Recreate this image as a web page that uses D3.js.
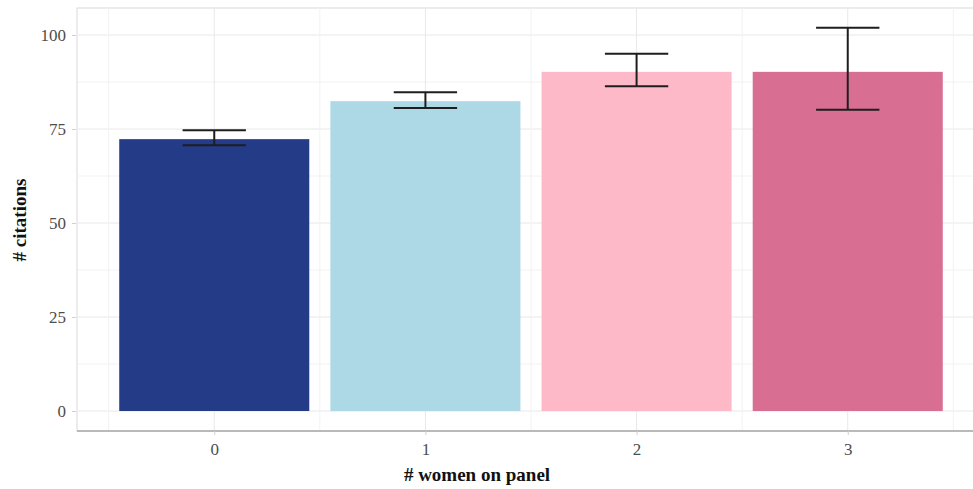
<!DOCTYPE html>
<html>
<head>
<meta charset="utf-8">
<script src="https://cdn.jsdelivr.net/npm/d3@7"></script>
<style>
  html, body { margin: 0; padding: 0; background: #fff; }
  svg { display: block; }
</style>
</head>
<body>
<svg id="chart" width="973" height="489"></svg>
<script>
// Mean citations by number of women on the panel, with error bars
const categories = ["0", "1", "2", "3"];
const means      = [72.3, 82.4, 90.2, 90.2];
const errLow     = [70.7, 80.6, 86.4, 80.1];
const errHigh    = [74.7, 84.8, 95.0, 101.9];
const barColors  = ["#243C88", "#ADD8E6", "#FDB9C7", "#D86E92"];
const yTicks     = [0, 25, 50, 75, 100];
const yMinor     = [12.5, 37.5, 62.5, 87.5];

const svg = d3.select("#chart");
const W = 973, H = 489;

// Panel bounds
const panel = { left: 77, right: 985, top: 8, bottom: 431 };

const x = d3.scaleLinear().domain([-0.65, 3.65]).range([panel.left, panel.right]);
const y = d3.scaleLinear().domain([0, 100]).range([411, 35]);

const serif = "'Liberation Serif', 'Times New Roman', serif";

// Panel background + border
svg.append("rect")
  .attr("x", panel.left).attr("y", panel.top)
  .attr("width", panel.right - panel.left).attr("height", panel.bottom - panel.top)
  .attr("fill", "#fff").attr("stroke", "#DADADA").attr("stroke-width", 1);

// Grid lines
const grid = svg.append("g");
grid.selectAll("line.ymin").data(yMinor).join("line")
  .attr("x1", panel.left).attr("x2", panel.right)
  .attr("y1", d => y(d)).attr("y2", d => y(d))
  .attr("stroke", "#F2F2F2").attr("stroke-width", 1);
grid.selectAll("line.ymaj").data(yTicks).join("line")
  .attr("x1", panel.left).attr("x2", panel.right)
  .attr("y1", d => y(d)).attr("y2", d => y(d))
  .attr("stroke", "#E8E8E8").attr("stroke-width", 1);
const xMinor = [-0.5, 0.5, 1.5, 2.5, 3.5];
grid.selectAll("line.xmin").data(xMinor).join("line")
  .attr("x1", d => x(d)).attr("x2", d => x(d))
  .attr("y1", panel.top).attr("y2", panel.bottom)
  .attr("stroke", "#F2F2F2").attr("stroke-width", 1);
grid.selectAll("line.xmaj").data(categories).join("line")
  .attr("x1", (d, i) => x(i)).attr("x2", (d, i) => x(i))
  .attr("y1", panel.top).attr("y2", panel.bottom)
  .attr("stroke", "#E8E8E8").attr("stroke-width", 1);

// Bars
const barW = 0.9;
svg.append("g").selectAll("rect").data(means).join("rect")
  .attr("x", (d, i) => x(i - barW / 2))
  .attr("width", (d, i) => x(i + barW / 2) - x(i - barW / 2))
  .attr("y", d => y(d))
  .attr("height", d => y(0) - y(d))
  .attr("fill", (d, i) => barColors[i]);

// Error bars
const capW = 0.3;
const eb = svg.append("g").attr("stroke", "#1E1E1E").attr("stroke-width", 2);
categories.forEach((c, i) => {
  eb.append("line").attr("x1", x(i)).attr("x2", x(i))
    .attr("y1", y(errLow[i])).attr("y2", y(errHigh[i]));
  eb.append("line").attr("x1", x(i - capW / 2)).attr("x2", x(i + capW / 2))
    .attr("y1", y(errLow[i])).attr("y2", y(errLow[i]));
  eb.append("line").attr("x1", x(i - capW / 2)).attr("x2", x(i + capW / 2))
    .attr("y1", y(errHigh[i])).attr("y2", y(errHigh[i]));
});

// Bottom axis line
svg.append("line")
  .attr("x1", panel.left).attr("x2", panel.right)
  .attr("y1", panel.bottom).attr("y2", panel.bottom)
  .attr("stroke", "#A8A8A8").attr("stroke-width", 1.5);

// Y axis
const yAxis = d3.axisLeft(y).tickValues(yTicks).tickSize(4).tickPadding(6);
const yg = svg.append("g").attr("transform", `translate(${panel.left - 1},0)`).call(yAxis);
yg.select(".domain").remove();
yg.selectAll(".tick line").attr("stroke", "#D0D0D0");
yg.selectAll(".tick text").attr("font-family", serif).attr("font-size", 17)
  .attr("fill", "#4D4D4D");

// X axis
const xAxis = d3.axisBottom(x).tickValues([0, 1, 2, 3])
  .tickFormat((d) => categories[d]).tickSize(4).tickPadding(8);
const xg = svg.append("g").attr("transform", `translate(0,${panel.bottom})`).call(xAxis);
xg.select(".domain").remove();
xg.selectAll(".tick line").attr("stroke", "#D0D0D0");
xg.selectAll(".tick text").attr("font-family", serif).attr("font-size", 17)
  .attr("fill", "#4D4D4D");

// Axis titles
svg.append("text")
  .attr("x", 477).attr("y", 481)
  .attr("text-anchor", "middle")
  .attr("font-family", serif).attr("font-weight", "bold").attr("font-size", 19)
  .attr("fill", "#111")
  .text("# women on panel");

svg.append("text")
  .attr("transform", `translate(26,220) rotate(-90)`)
  .attr("text-anchor", "middle")
  .attr("font-family", serif).attr("font-weight", "bold").attr("font-size", 19)
  .attr("fill", "#111")
  .text("# citations");
</script>
</body>
</html>
